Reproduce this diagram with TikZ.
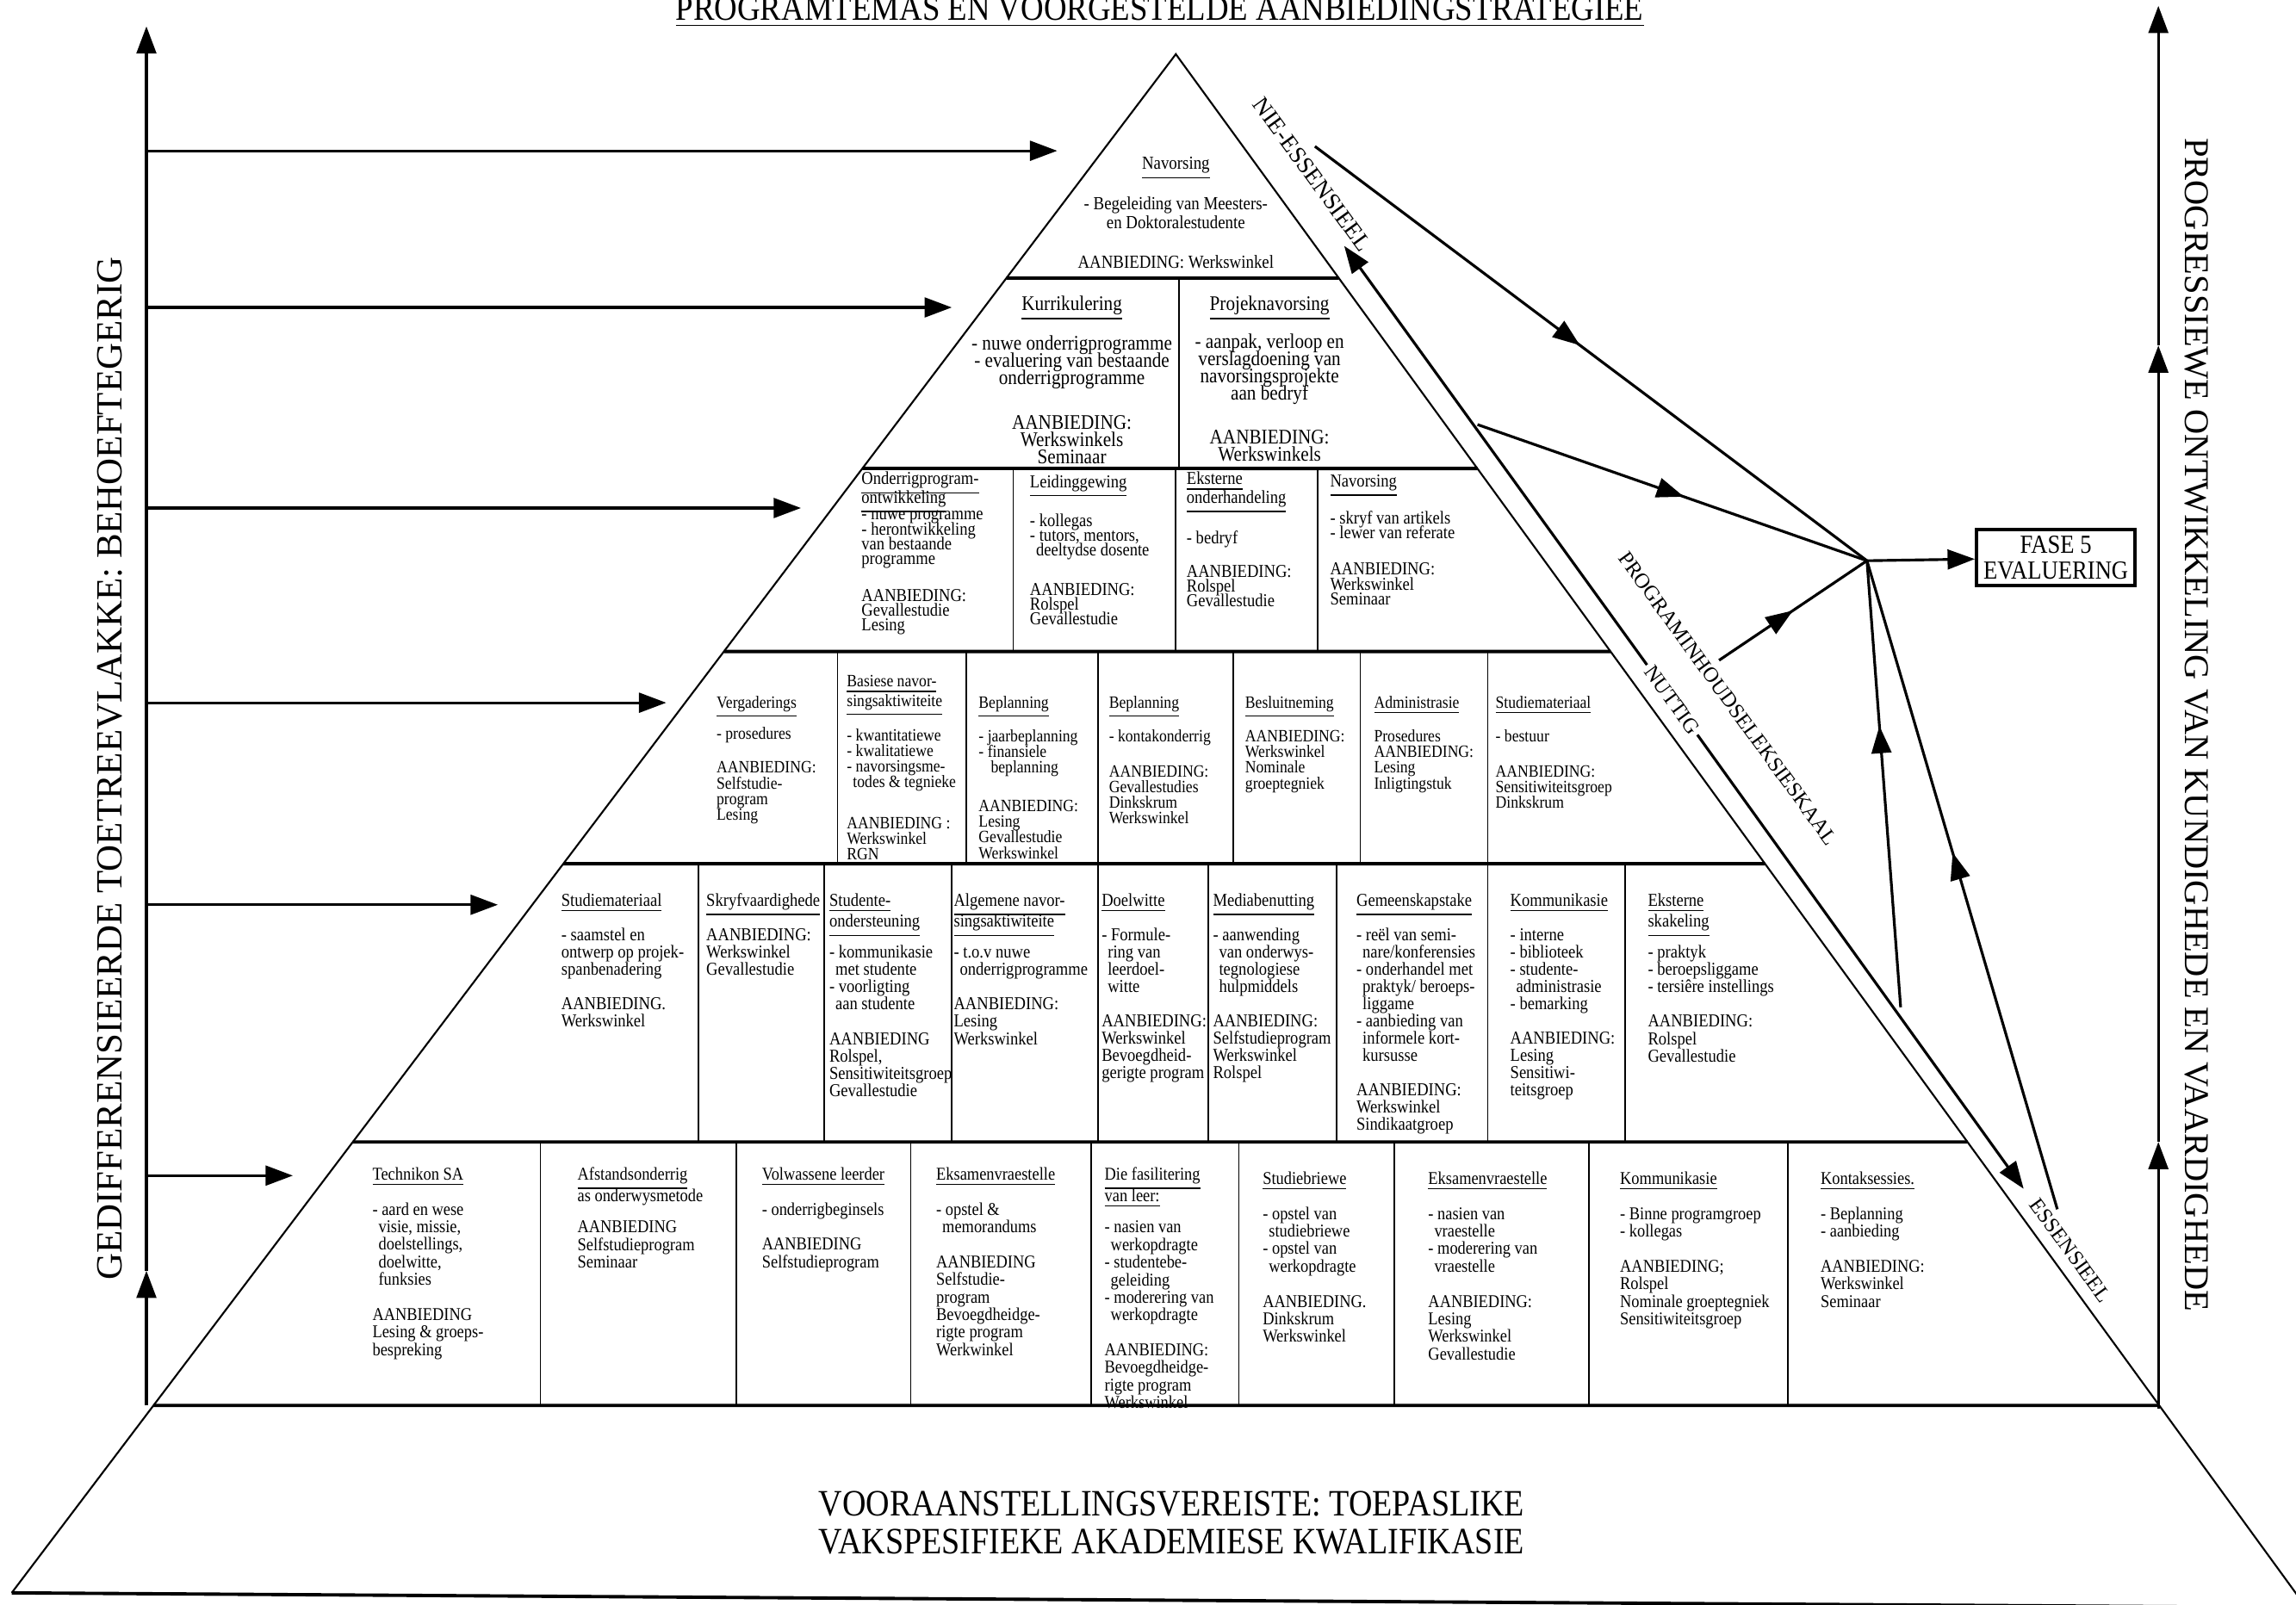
\documentclass[tikz,border=0pt]{standalone}
\usepackage{fontspec}
\setmainfont{Liberation Serif}
\newfontfamily\cond[FakeStretch=0.88]{Liberation Serif}
\usetikzlibrary{calc,arrows.meta,decorations.markings}
\newcommand{\hdr}[1]{\underline{#1}}
\newcommand{\tight}{\lineskiplimit=-20pt\lineskip=0pt\relax}
\tikzset{
  edge/.style={draw=black, line width=0.6pt},
  tier/.style={draw=black, line width=1.1pt},
  div/.style={draw=black, line width=0.5pt},
  arr/.style={draw=black, line width=0.9pt, -{Triangle[length=9pt,width=6.5pt]}},
  midarr/.style={draw=black, line width=0.9pt, postaction={decorate},
    decoration={markings, mark=at position #1 with {\arrow{Triangle[length=9pt,width=6.5pt]}}}},
  tA/.style={inner sep=0pt, anchor=north, align=center, font=\cond\fontsize{6.1}{6.3}\selectfont\tight},
  tB/.style={inner sep=0pt, anchor=north, align=center, font=\cond\fontsize{6.85}{5.7}\selectfont\tight},
  tC/.style={inner sep=0pt, anchor=north west, align=left, font=\cond\fontsize{6.0}{4.93}\selectfont\tight},
  tD/.style={inner sep=0pt, anchor=north west, align=left, font=\cond\fontsize{5.7}{5.18}\selectfont\tight},
  tE/.style={inner sep=0pt, anchor=north west, align=left, font=\cond\fontsize{6.0}{5.7}\selectfont\tight},
  tF/.style={inner sep=0pt, anchor=north west, align=left, font=\cond\fontsize{5.95}{5.8}\selectfont\tight},
  band/.style={inner sep=1pt, rotate=-54, font=\fontsize{7}{7}\selectfont},
  fasebox/.style={draw=black, line width=1.2pt, inner sep=2pt, align=center,
    minimum width=1.84cm, minimum height=0.65cm, font=\cond\fontsize{8.6}{8.7}\selectfont\tight},
}
\begin{document}
\begin{tikzpicture}[x=0.017cm,y=-0.017cm]
\useasboundingbox (0,0) rectangle (1568,1096);

% pyramid
\coordinate (apex) at (803,37);
\coordinate (fl) at (8,1088);
\coordinate (fr) at (1575,1098);
\draw[edge] (fl) -- (apex) -- (fr);
\draw[tier] (fl) -- (fr);
\foreach \yy in {190,320,445,590,780,960}{
  \pgfmathsetmacro{\tl}{(\yy-37)/1051}
  \pgfmathsetmacro{\tr}{(\yy-37)/1061}
  \draw[tier] ($(apex)!\tl!(fl)$) -- ($(apex)!\tr!(fr)$);
}
\foreach \xx in {805} \draw[div] (\xx,190) -- (\xx,320);
\foreach \xx in {692,803,900} \draw[div] (\xx,320) -- (\xx,445);
\foreach \xx in {572,660,750,842,929,1016} \draw[div] (\xx,445) -- (\xx,590);
\foreach \xx in {477,563,650,750,825,913,1016,1110} \draw[div] (\xx,590) -- (\xx,780);
\foreach \xx in {369,503,622,745,846,952,1085,1221} \draw[div] (\xx,780) -- (\xx,960);

% tier 1 and 2
\node[tA] (nav) at (803,107) {\hdr{Navorsing}\\[1.1\baselineskip]- Begeleiding van Meesters-\\en Doktoralestudente\\[1.1\baselineskip]AANBIEDING: Werkswinkel};
\node[tB] (kur) at (732,201.5) {\hdr{Kurrikulering}\\[1.3\baselineskip]- nuwe onderrigprogramme\\- evaluering van bestaande\\onderrigprogramme\\[1.6\baselineskip]AANBIEDING:\\Werkswinkels\\Seminaar};
\node[tB] (pro) at (867,201.5) {\hdr{Projeknavorsing}\\[1.2\baselineskip]- aanpak, verloop en\\verslagdoening van\\navorsingsprojekte\\aan bedryf\\[1.55\baselineskip]AANBIEDING:\\Werkswinkels};

% tier 3
\node[tC] (c31) at (588,322) {\hdr{Onderrigprogram-}\\[1.2pt]\hdr{ontwikkeling}\\[0.6pt]- nuwe programme\\- herontwikkeling\\van bestaande\\programme\\[1.45\baselineskip]AANBIEDING:\\Gevallestudie\\Lesing};
\node[tC] (c32) at (703,324) {\hdr{Leidinggewing}\\[1.6\baselineskip]- kollegas\\- tutors, mentors,\\\hspace*{2pt}deeltydse dosente\\[1.6\baselineskip]AANBIEDING:\\Rolspel\\Gevallestudie};
\node[tC] (c33) at (810,322) {\hdr{Eksterne}\\[1.2pt]\hdr{onderhandeling}\\[1.7\baselineskip]- bedryf\\[1.25\baselineskip]AANBIEDING:\\Rolspel\\Gevallestudie};
\node[tC] (c34) at (908,324) {\hdr{Navorsing}\\[1.45\baselineskip]- skryf van artikels\\- lewer van referate\\[1.45\baselineskip]AANBIEDING:\\Werkswinkel\\Seminaar};

% tier 4
\node[tD] (c41) at (489,475) {\hdr{Vergaderings}\\[\baselineskip]- prosedures\\[1.15\baselineskip]AANBIEDING:\\Selfstudie-\\program\\Lesing};
\node[tD] (c42) at (578,461) {\hdr{Basiese navor-}\\[1.2pt]\hdr{singsaktiwiteite}\\[1.2\baselineskip]- kwantitatiewe\\- kwalitatiewe\\- navorsingsme-\\\hspace*{2pt}todes \& tegnieke\\[1.6\baselineskip]AANBIEDING :\\Werkswinkel\\RGN};
\node[tD] (c43) at (668,475) {\hdr{Beplanning}\\[1.15\baselineskip]- jaarbeplanning\\- finansiele\\\hspace*{4pt}beplanning\\[1.45\baselineskip]AANBIEDING:\\Lesing\\Gevallestudie\\Werkswinkel};
\node[tD] (c44) at (757,475) {\hdr{Beplanning}\\[1.15\baselineskip]- kontakonderrig\\[1.25\baselineskip]AANBIEDING:\\Gevallestudies\\Dinkskrum\\Werkswinkel};
\node[tD] (c45) at (850,475) {\hdr{Besluitneming}\\[1.15\baselineskip]AANBIEDING:\\Werkswinkel\\Nominale\\groeptegniek};
\node[tD] (c46) at (938,475) {\hdr{Administrasie}\\[1.15\baselineskip]Prosedures\\AANBIEDING:\\Lesing\\Inligtingstuk};
\node[tD] (c47) at (1021,475) {\hdr{Studiemateriaal}\\[1.15\baselineskip]- bestuur\\[1.25\baselineskip]AANBIEDING:\\Sensitiwiteitsgroep\\Dinkskrum};

% tier 5
\node[tE] (c51) at (383,610) {\hdr{Studiemateriaal}\\[\baselineskip]- saamstel en\\ontwerp op projek-\\spanbenadering\\[\baselineskip]AANBIEDING.\\Werkswinkel};
\node[tE] (c52) at (482,610) {\hdr{Skryfvaardighede}\\[\baselineskip]AANBIEDING:\\Werkswinkel\\Gevallestudie};
\node[tE] (c53) at (566,610) {\hdr{Studente-}\\[1.2pt]\hdr{ondersteuning}\\[0.8\baselineskip]- kommunikasie\\\hspace*{2pt}met studente\\- voorligting\\\hspace*{2pt}aan studente\\[\baselineskip]AANBIEDING\\Rolspel,\\Sensitiwiteitsgroep\\Gevallestudie};
\node[tE] (c54) at (651,610) {\hdr{Algemene navor-}\\[1.2pt]\hdr{singsaktiwiteite}\\[0.8\baselineskip]- t.o.v nuwe\\\hspace*{2pt}onderrigprogramme\\[\baselineskip]AANBIEDING:\\Lesing\\Werkswinkel};
\node[tE] (c55) at (752,610) {\hdr{Doelwitte}\\[\baselineskip]- Formule-\\\hspace*{2pt}ring van\\\hspace*{2pt}leerdoel-\\\hspace*{2pt}witte\\[\baselineskip]AANBIEDING:\\Werkswinkel\\Bevoegdheid-\\gerigte program};
\node[tE] (c56) at (828,610) {\hdr{Mediabenutting}\\[\baselineskip]- aanwending\\\hspace*{2pt}van onderwys-\\\hspace*{2pt}tegnologiese\\\hspace*{2pt}hulpmiddels\\[\baselineskip]AANBIEDING:\\Selfstudieprogram\\Werkswinkel\\Rolspel};
\node[tE] (c57) at (926,610) {\hdr{Gemeenskapstake}\\[\baselineskip]- reël van semi-\\\hspace*{2pt}nare/konferensies\\- onderhandel met\\\hspace*{2pt}praktyk/ beroeps-\\\hspace*{2pt}liggame\\- aanbieding van\\\hspace*{2pt}informele kort-\\\hspace*{2pt}kursusse\\[\baselineskip]AANBIEDING:\\Werkswinkel\\Sindikaatgroep};
\node[tE] (c58) at (1031,610) {\hdr{Kommunikasie}\\[\baselineskip]- interne\\- biblioteek\\- studente-\\\hspace*{2pt}administrasie\\- bemarking\\[\baselineskip]AANBIEDING:\\Lesing\\Sensitiwi-\\teitsgroep};
\node[tE] (c59) at (1125,610) {\hdr{Eksterne}\\[1.2pt]\hdr{skakeling}\\[0.8\baselineskip]- praktyk\\- beroepsliggame\\- tersiêre instellings\\[\baselineskip]AANBIEDING:\\Rolspel\\Gevallestudie};

% tier 6
\node[tF] (c61) at (254,797) {\hdr{Technikon SA}\\[\baselineskip]- aard en wese\\\hspace*{2pt}visie, missie,\\\hspace*{2pt}doelstellings,\\\hspace*{2pt}doelwitte,\\\hspace*{2pt}funksies\\[\baselineskip]AANBIEDING\\Lesing \& groeps-\\bespreking};
\node[tF] (c62) at (394,797) {\hdr{Afstandsonderrig}\\[1.2pt]as onderwysmetode\\[0.8\baselineskip]AANBIEDING\\Selfstudieprogram\\Seminaar};
\node[tF] (c63) at (520,797) {\hdr{Volwassene leerder}\\[\baselineskip]- onderrigbeginsels\\[\baselineskip]AANBIEDING\\Selfstudieprogram};
\node[tF] (c64) at (639,797) {\hdr{Eksamenvraestelle}\\[\baselineskip]- opstel \&\\\hspace*{2pt}memorandums\\[\baselineskip]AANBIEDING\\Selfstudie-\\program\\Bevoegdheidge-\\rigte program\\Werkwinkel};
\node[tF] (c65) at (754,797) {\hdr{Die fasilitering}\\[1.2pt]\hdr{van leer:}\\[0.8\baselineskip]- nasien van\\\hspace*{2pt}werkopdragte\\- studentebe-\\\hspace*{2pt}geleiding\\- moderering van\\\hspace*{2pt}werkopdragte\\[\baselineskip]AANBIEDING:\\Bevoegdheidge-\\rigte program\\Werkswinkel};
\node[tF] (c66) at (862,800) {\hdr{Studiebriewe}\\[\baselineskip]- opstel van\\\hspace*{2pt}studiebriewe\\- opstel van\\\hspace*{2pt}werkopdragte\\[\baselineskip]AANBIEDING.\\Dinkskrum\\Werkswinkel};
\node[tF] (c67) at (975,800) {\hdr{Eksamenvraestelle}\\[\baselineskip]- nasien van\\\hspace*{2pt}vraestelle\\- moderering van\\\hspace*{2pt}vraestelle\\[\baselineskip]AANBIEDING:\\Lesing\\Werkswinkel\\Gevallestudie};
\node[tF] (c68) at (1106,800) {\hdr{Kommunikasie}\\[\baselineskip]- Binne programgroep\\- kollegas\\[\baselineskip]AANBIEDING;\\Rolspel\\Nominale groeptegniek\\Sensitiwiteitsgroep};
\node[tF] (c69) at (1243,800) {\hdr{Kontaksessies.}\\[\baselineskip]- Beplanning\\- aanbieding\\[\baselineskip]AANBIEDING:\\Werkswinkel\\Seminaar};

% base
\node[align=center, font=\cond\fontsize{12.3}{12.6}\selectfont\tight] (req) at (800,1040) {VOORAANSTELLINGSVEREISTE: TOEPASLIKE\\VAKSPESIFIEKE AKADEMIESE KWALIFIKASIE};

% title and side axes
\node[anchor=base, font=\cond\fontsize{11.9}{12}\selectfont] (title) at (792,14) {\underline{PROGRAMTEMAS EN VOORGESTELDE AANBIEDINGSTRATEGIEE}};
\node[rotate=90, font=\fontsize{12.2}{12}\selectfont] (need) at (75,525) {GEDIFFERENSIEERDE TOETREEVLAKKE: BEHOEFTEGERIG};
\node[rotate=-90, font=\fontsize{11.5}{12}\selectfont] (grow) at (1500,495) {PROGRESSIEWE ONTWIKKELING VAN KUNDIGHEDE EN VAARDIGHEDE};

\coordinate (lb) at (100,960);
\coordinate (lm) at (100,868);
\coordinate (lt) at (100,18);
\draw[arr] (lb) -- (lm);
\draw[arr] (lm) -- (lt);
\foreach \yy/\xx in {103/722,210/650,347/547,480/455,618/340,803/200}
  \draw[arr] (100,\yy) -- (\xx,\yy);

\coordinate (rb) at (1474,962);
\coordinate (r1) at (1474,780);
\coordinate (r2) at (1474,236);
\coordinate (rt) at (1474,4);
\draw[arr] (rb) -- (r1);
\draw[arr] (r1) -- (r2);
\draw[arr] (r2) -- (rt);

% selection scale
\node[band, font=\fontsize{7.8}{7.8}\selectfont] (nie) at (896,119) {NIE-ESSENSIEEL};
\node[band] (nut) at (1142,478) {NUTTIG};
\node[band] (ess) at (1414,854) {ESSENSIEEL};
\node[band] (skaal) at (1180,477) {PROGRAMINHOUDSELEKSIESKAAL};
\coordinate (s1) at (918,168);
\coordinate (s4) at (1382,812);
\draw[arr] (nut) -- (s1);
\draw[arr] (nut) -- (s4);

% evaluation
\coordinate (P) at (1275,383);
\coordinate (a1) at (898,100);
\coordinate (a2) at (1009,290);
\coordinate (a3) at (1174,451);
\coordinate (a4) at (1298,688);
\coordinate (a5) at (1405,826);
\draw[midarr=0.48] (a1) -- (P);
\draw[midarr=0.53] (a2) -- (P);
\draw[midarr=0.5] (a3) -- (P);
\draw[midarr=0.63] (a4) -- (P);
\draw[midarr=0.55] (a5) -- (P);
\node[fasebox] (fase) at (1404,381) {FASE 5\\EVALUERING};
\draw[arr] (P) -- (fase);
\end{tikzpicture}
\end{document}
